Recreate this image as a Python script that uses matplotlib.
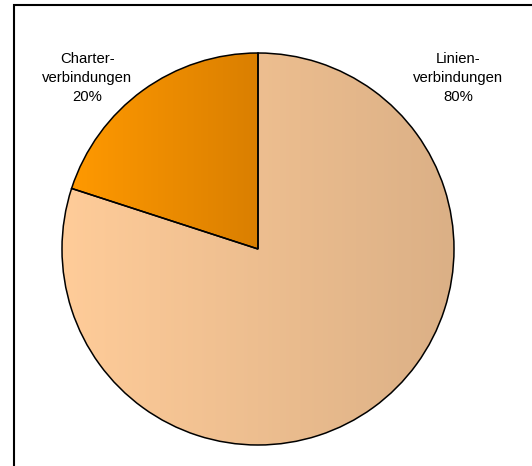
import numpy as np
import matplotlib
matplotlib.use("Agg")
import matplotlib.pyplot as plt
from matplotlib.colors import LinearSegmentedColormap
from matplotlib.patches import Rectangle

plt.rcParams["font.family"] = ["Liberation Sans", "DejaVu Sans"]

# data
labels = ["Charter-\nverbindungen", "Linien-\nverbindungen"]
shares = [20, 80]
# gradient colours per wedge (left -> right)
grad_left = ["#FF9900", "#FFCC99"]
grad_right = ["#DA7F00", "#DBB086"]
# label anchor (data coords)
label_xy = [(-0.872, 0.872), (1.02, 0.872)]

W, H = 532, 466
fig = plt.figure(figsize=(W / 100, H / 100), dpi=100)

# outer frame (left/top visible, right/bottom run off the image)
fig.patches.append(Rectangle((14 / W, -0.05), 1.2, (H - 5) / H + 0.05,
                             transform=fig.transFigure, fill=False,
                             edgecolor="black", linewidth=1.5))

cx, cy, r = 258, H - 249, 196
ax = fig.add_axes([(cx - r) / W, (cy - r) / H, 2 * r / W, 2 * r / H])

wedges, _ = ax.pie(shares, startangle=90, counterclock=True, radius=1,
                   center=(0, 0), frame=False,
                   wedgeprops=dict(edgecolor="black", linewidth=1.1))
ax.set_aspect("auto")
ax.axis("off")

# horizontal gradient fill, clipped to each wedge
grad = np.linspace(0, 1, 256).reshape(1, -1)
for w, c0, c1 in zip(wedges, grad_left, grad_right):
    w.set_facecolor("none")
    bb = w.get_path().get_extents(w.get_transform() - ax.transData)
    cmap = LinearSegmentedColormap.from_list("g", [c0, c1])
    im = ax.imshow(grad, cmap=cmap, aspect="auto",
                   extent=[bb.x0, bb.x1, bb.y0, bb.y1], zorder=w.get_zorder() - 0.1)
    im.set_clip_path(w)
ax.set_xlim(-1, 1)
ax.set_ylim(-1, 1)

for (x, y), lab, s in zip(label_xy, labels, shares):
    ax.text(x, y, f"{lab}\n{s}%", ha="center", va="center", fontsize=10.7,
            linespacing=1.45, clip_on=False)

fig.savefig("out.png", dpi=100)
